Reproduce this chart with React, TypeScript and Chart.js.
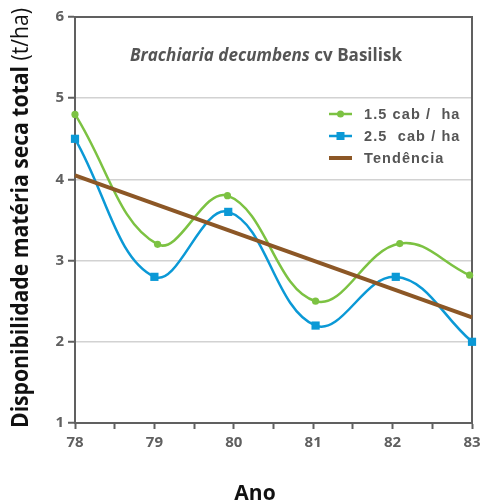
import React, { useEffect, useRef } from 'react';
import { Chart, registerables } from 'chart.js';
Chart.register(...registerables);

// ---- data ----
const yearTicks = [78, 79, 80, 81, 82, 83];
const xGreen = [78, 79.04, 79.92, 81.03, 82.09, 82.97];
const valGreen = [4.8, 3.2, 3.8, 2.5, 3.21, 2.82];
const xBlue = [78, 79.0, 79.93, 81.03, 82.04, 83];
const valBlue = [4.5, 2.8, 3.6, 2.2, 2.8, 2.0];
const xTrend = [78, 83];
const valTrend = [4.05, 2.3];
const seriesNames = ['1.5 cab /  ha', '2.5  cab / ha', 'Tendência'];
const yRange = [1, 6];
const subtitleItalic = 'Brachiaria decumbens';
const subtitleRest = ' cv Basilisk';
const yTitleBold = 'Disponibilidade matéria seca total';
const yTitleNormal = ' (t/ha)';
const xTitle = 'Ano';

const GREEN = '#7cc242';
const BLUE = '#0b99d6';
const BROWN = '#8c5726';
const AXIS = '#606060';
const FONT = '"Open Sans", "Noto Sans", sans-serif';

const decorPlugin = {
  id: 'decor',
  beforeDatasetsDraw(chart: any) {
    const { ctx, chartArea: a } = chart;
    ctx.save();
    ctx.strokeStyle = AXIS;
    ctx.lineWidth = 2;
    ctx.beginPath();
    ctx.moveTo(a.left, a.top);
    ctx.lineTo(a.right, a.top);
    ctx.lineTo(a.right, a.bottom);
    ctx.stroke();
    ctx.restore();
  },
  afterDraw(chart: any) {
    const { ctx } = chart;
    // subtitle
    ctx.save();
    ctx.fillStyle = '#555555';
    ctx.textBaseline = 'alphabetic';
    const f1 = `italic bold 17px ${FONT}`;
    const f2 = `bold 17px ${FONT}`;
    ctx.font = f1;
    const w1 = ctx.measureText(subtitleItalic).width;
    ctx.font = f2;
    const w2 = ctx.measureText(subtitleRest).width;
    const target = 272;
    const sx = target / (w1 + w2);
    ctx.translate(266 - target / 2, 61);
    ctx.scale(sx, 1);
    ctx.font = f1;
    ctx.fillText(subtitleItalic, 0, 0);
    ctx.font = f2;
    ctx.fillText(subtitleRest, w1, 0);
    ctx.restore();

    // legend
    ctx.save();
    const rows = [114, 136, 158];
    const colors = [GREEN, BLUE, BROWN];
    rows.forEach((ry, i) => {
      ctx.strokeStyle = colors[i];
      ctx.lineWidth = i === 2 ? 4 : 2.5;
      ctx.beginPath();
      ctx.moveTo(329, ry);
      ctx.lineTo(352, ry);
      ctx.stroke();
      ctx.fillStyle = colors[i];
      if (i === 0) {
        ctx.beginPath();
        ctx.arc(340.5, ry, 3.5, 0, Math.PI * 2);
        ctx.fill();
      } else if (i === 1) {
        ctx.fillRect(336.5, ry - 4, 8, 8);
      }
      ctx.fillStyle = '#555555';
      ctx.font = `bold 14.5px "Liberation Sans", Arial, sans-serif`;
      (ctx as any).letterSpacing = '1.1px';
      ctx.textBaseline = 'middle';
      ctx.fillText(seriesNames[i], 364, ry + 1);
      (ctx as any).letterSpacing = '0px';
    });
    ctx.restore();

    // x title
    ctx.save();
    ctx.fillStyle = '#111111';
    ctx.font = `bold 21px ${FONT}`;
    ctx.textAlign = 'center';
    ctx.textBaseline = 'alphabetic';
    ctx.fillText(xTitle, 255, 500);
    ctx.restore();

    // y title
    ctx.save();
    ctx.fillStyle = '#111111';
    const fb = `bold 23px ${FONT}`;
    const fn = `23px ${FONT}`;
    ctx.font = fb;
    const b1 = ctx.measureText(yTitleBold).width;
    ctx.font = fn;
    const b2 = ctx.measureText(yTitleNormal).width;
    const len = 420;
    const s = len / (b1 + b2);
    ctx.translate(28, 218);
    ctx.rotate(-Math.PI / 2);
    ctx.translate(-len / 2, 0);
    ctx.scale(s, 1);
    ctx.textBaseline = 'alphabetic';
    ctx.font = fb;
    ctx.fillText(yTitleBold, 0, 0);
    ctx.font = fn;
    ctx.fillText(yTitleNormal, b1, 0);
    ctx.restore();
  },
};

export default function App() {
  const ref = useRef<HTMLCanvasElement>(null);
  useEffect(() => {
    if (!ref.current) return;
    const chart = new Chart(ref.current, {
      type: 'line',
      data: {
        datasets: [
          {
            label: seriesNames[2],
            data: xTrend.map((x, i) => ({ x, y: valTrend[i] })),
            borderColor: BROWN,
            borderWidth: 4,
            pointRadius: 0,
            tension: 0,
            order: 0,
            clip: false as any,
          },
          {
            label: seriesNames[0],
            data: xGreen.map((x, i) => ({ x, y: valGreen[i] })),
            borderColor: GREEN,
            backgroundColor: GREEN,
            borderWidth: 2.5,
            pointRadius: 3.6,
            pointBorderWidth: 0,
            pointStyle: 'circle',
            tension: 0.4,
            order: 1,
            clip: false as any,
          },
          {
            label: seriesNames[1],
            data: xBlue.map((x, i) => ({ x, y: valBlue[i] })),
            borderColor: BLUE,
            backgroundColor: BLUE,
            borderWidth: 2.5,
            pointRadius: 5.8,
            pointBorderWidth: 0,
            pointStyle: 'rect',
            tension: 0.4,
            order: 2,
            clip: false as any,
          },
        ],
      },
      options: {
        responsive: false,
        animation: false,
        events: [],
        layout: { padding: { left: 0, right: 8, top: 17, bottom: 0 } },
        plugins: {
          legend: { display: false },
          tooltip: { enabled: false },
          title: { display: false },
        },
        scales: {
          x: {
            type: 'linear',
            min: yearTicks[0],
            max: yearTicks[yearTicks.length - 1],
            ticks: {
              stepSize: 0.5,
              autoSkip: false,
              maxRotation: 0,
              callback: (v: any) => (yearTicks.includes(Number(v)) ? String(v) : ''),
              font: { family: FONT, size: 15, weight: 'bold' },
              color: AXIS,
              padding: 5,
            },
            grid: { drawOnChartArea: false, tickLength: 6, tickColor: AXIS, tickWidth: 2 },
            border: { color: AXIS, width: 2 },
            afterFit: (s: any) => {
              s.height = 81;
              s.paddingLeft = 0;
              s.paddingRight = 0;
            },
          } as any,
          y: {
            min: yRange[0],
            max: yRange[1],
            ticks: {
              stepSize: 1,
              font: { family: FONT, size: 15, weight: 'bold' },
              color: AXIS,
              padding: 4,
            },
            grid: { color: '#d2d2d2', lineWidth: 1.5, tickLength: 7, tickColor: AXIS, tickWidth: 2 },
            border: { color: AXIS, width: 2 },
            afterFit: (s: any) => {
              s.width = 75;
              s.paddingTop = 0;
              s.paddingBottom = 0;
            },
          } as any,
        },
      },
      plugins: [decorPlugin],
    });
    return () => chart.destroy();
  }, []);
  return (
    <div style={{ position: 'absolute', left: 0, top: 0, width: 480, height: 504, background: '#fff' }}>
      <canvas ref={ref} width={480} height={504} />
    </div>
  );
}
